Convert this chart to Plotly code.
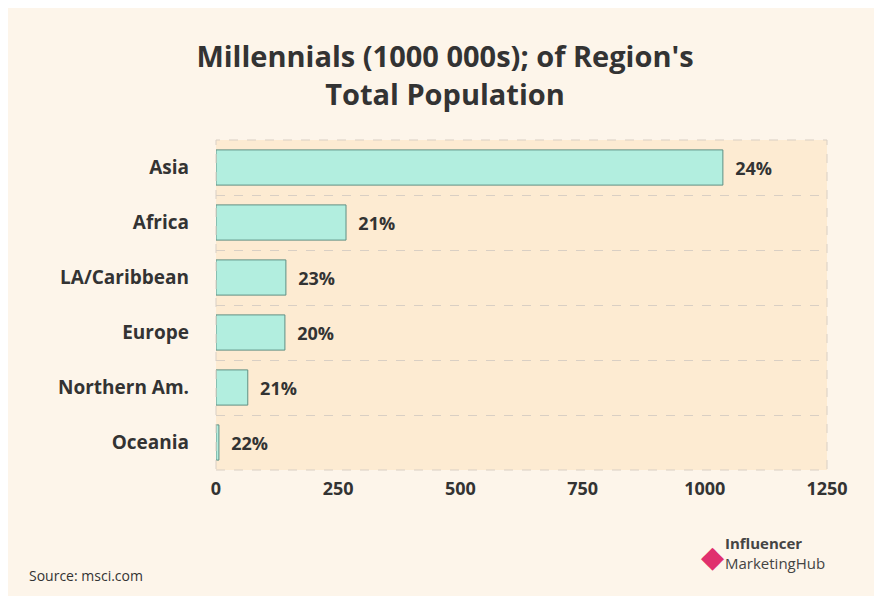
import plotly.graph_objects as go

REGIONS = ["Asia", "Africa", "LA/Caribbean", "Europe", "Northern Am.", "Oceania"]
MILLENNIALS = [1037, 266, 143, 141, 65, 6]
SHARE_LABELS = ["  24%", "  21%", "  23%", "  20%", "  21%", "  22%"]

FONT = "Open Sans"
DARK = "#333333"

fig = go.Figure()
fig.add_trace(go.Bar(
    x=MILLENNIALS,
    y=REGIONS,
    orientation="h",
    text=SHARE_LABELS,
    textposition="outside",
    textfont=dict(family=FONT, size=18, color=DARK, weight="bold"),
    cliponaxis=False,
    width=0.64,
    marker=dict(color="#b2eedf", line=dict(color="#5f8f84", width=1)),
))

fig.update_layout(
    width=874, height=588,
    paper_bgcolor="#fdf5ea",
    plot_bgcolor="#fdebd2",
    margin=dict(l=208, r=55, t=132, b=126),
    showlegend=False,
    title=dict(
        text="<b>Millennials (1000 000s); of Region's<br>Total Population</b>",
        x=0.5, xanchor="center", y=0.9, yanchor="middle",
        font=dict(family=FONT, size=29, color=DARK),
    ),
    font=dict(family=FONT, color=DARK),
)
fig.update_xaxes(
    range=[0, 1250], tickvals=[0, 250, 500, 750, 1000, 1250],
    showgrid=False, zeroline=False,
    tickfont=dict(size=18, weight="bold", color=DARK),
    ticks="", ticklabelstandoff=6,
)
fig.update_yaxes(
    autorange="reversed", tickson="boundaries",
    showgrid=True, gridcolor="#d9cfc4", griddash="dash", gridwidth=1,
    tickfont=dict(size=19, weight="bold", color=DARK),
    ticks="", ticklabelstandoff=26,
)
fig.add_shape(type="rect", xref="paper", yref="paper", x0=0, x1=1, y0=0, y1=1,
              line=dict(color="#d9cfc4", width=1, dash="dash"))

fig.add_annotation(text="Source: msci.com", xref="paper", yref="paper",
                   x=-0.31, y=-0.32, xanchor="left", yanchor="middle", showarrow=False,
                   font=dict(family=FONT, size=14, color=DARK))
fig.add_annotation(text="<b>Influencer</b><br>MarketingHub", xref="paper", yref="paper",
                   x=1.0, y=-0.25, xanchor="right", yanchor="middle", showarrow=False,
                   align="left", font=dict(family=FONT, size=15, color="#444444"))
fig.add_annotation(text="◆", xref="paper", yref="paper",
                   x=0.835, y=-0.26, xanchor="right", yanchor="middle", showarrow=False,
                   font=dict(size=30, color="#e0306e"))

fig.write_html("out.html")
